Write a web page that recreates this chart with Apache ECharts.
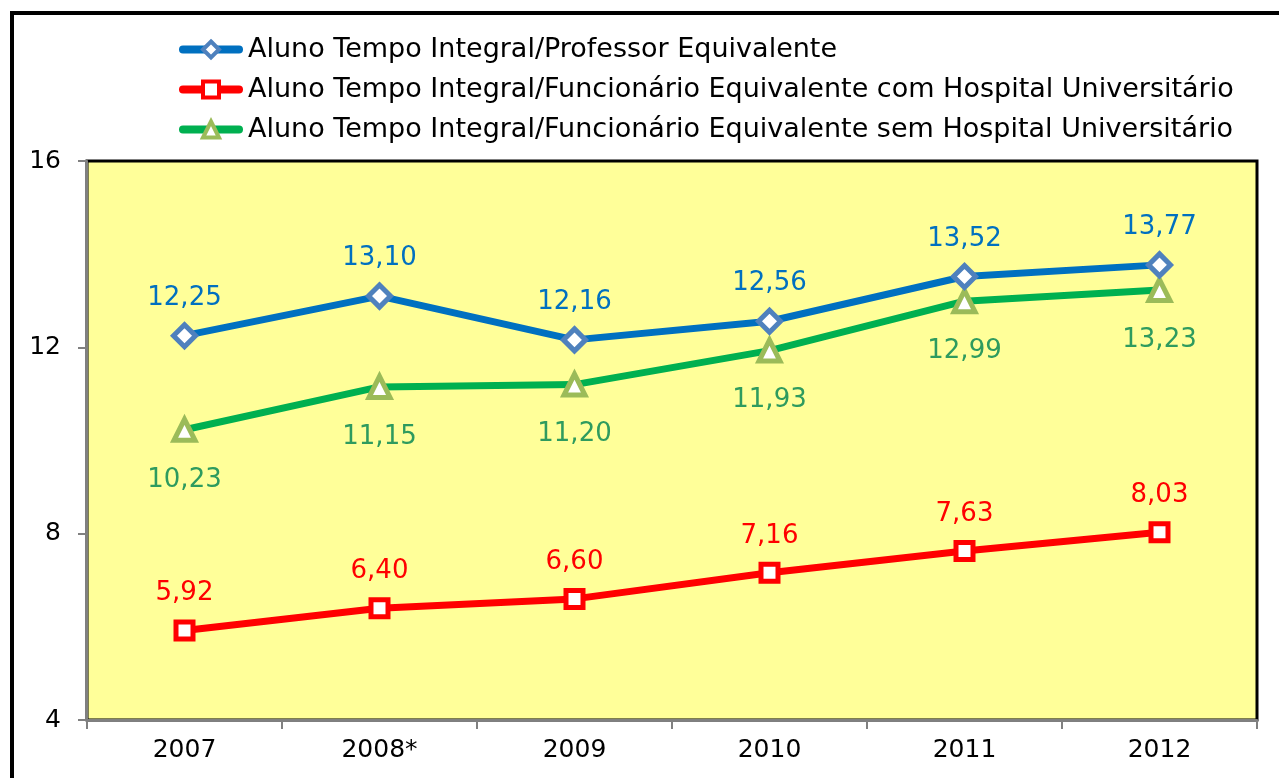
<!DOCTYPE html>
<html>
<head>
<meta charset="utf-8">
<script src="https://cdn.jsdelivr.net/npm/echarts@6/dist/echarts.min.js"></script>
<style>
  html, body { margin: 0; padding: 0; background: #fff; }
  #chart { width: 1279px; height: 778px; }
</style>
</head>
<body>
<div id="chart"></div>
<script>
const years = ["2007", "2008*", "2009", "2010", "2011", "2012"];
const alunoProfessor = [12.25, 13.10, 12.16, 12.56, 13.52, 13.77];
const alunoFuncComHU = [5.92, 6.40, 6.60, 7.16, 7.63, 8.03];
const alunoFuncSemHU = [10.23, 11.15, 11.20, 11.93, 12.99, 13.23];
const seriesNames = [
  "Aluno Tempo Integral/Professor Equivalente",
  "Aluno Tempo Integral/Funcionário Equivalente com Hospital Universitário",
  "Aluno Tempo Integral/Funcionário Equivalente sem Hospital Universitário"
];

const FONT = "DejaVu Sans";
const fmt = p => p.value.toFixed(2).replace(".", ",");

// line colour, marker border colour per series
const lineColors = ["#0070C0", "#FF0000", "#00B050"];
const markColors = ["#4F81BD", "#FF0000", "#9BBB59"];

const chart = echarts.init(document.getElementById("chart"));

chart.setOption({
  animation: false,
  textStyle: { fontFamily: FONT },
  graphic: [
    {
      type: "rect",
      shape: { x: 12, y: 13, width: 1400, height: 900 },
      style: { fill: "none", stroke: "#000", lineWidth: 4 },
      silent: true
    }
  ],
  legend: {
    orient: "vertical",
    left: 174,
    top: 31,
    itemWidth: 56,
    itemHeight: 20,
    itemGap: 13,
    textStyle: { fontSize: 27, color: "#000", fontFamily: FONT, padding: [0, 0, 0, 4] },
    data: seriesNames.map((name, i) => ({
      name,
      lineStyle: { width: 8, color: lineColors[i], cap: "round" },
      itemStyle: { color: "#fff", borderColor: markColors[i], borderWidth: 4 }
    }))
  },
  grid: {
    left: 87,
    right: 22,
    top: 161,
    bottom: 58,
    show: true,
    backgroundColor: "#FFFF99",
    borderColor: "#000",
    borderWidth: 3
  },
  xAxis: {
    type: "category",
    data: years,
    boundaryGap: true,
    axisLine: { lineStyle: { color: "#808080", width: 2 } },
    axisTick: { show: true, length: 9, lineStyle: { color: "#808080", width: 2 } },
    axisLabel: { fontSize: 25, color: "#000", margin: 18, fontFamily: FONT },
    splitLine: { show: false }
  },
  yAxis: {
    type: "value",
    min: 4,
    max: 16,
    interval: 4,
    axisLine: { show: true, lineStyle: { color: "#808080", width: 2 } },
    axisTick: { show: true, length: 9, lineStyle: { color: "#808080", width: 2 } },
    axisLabel: { fontSize: 25, color: "#000", margin: 26, fontFamily: FONT },
    splitLine: { show: false }
  },
  series: [
    {
      name: seriesNames[0],
      type: "line",
      data: alunoProfessor,
      symbol: "diamond",
      symbolSize: 22,
      lineStyle: { color: lineColors[0], width: 7 },
      itemStyle: { color: "#fff", borderColor: markColors[0], borderWidth: 5 },
      label: {
        show: true, position: "top", distance: 11, formatter: fmt,
        fontSize: 26, color: "#0070C0", fontFamily: FONT
      },
      z: 4
    },
    {
      name: seriesNames[1],
      type: "line",
      data: alunoFuncComHU,
      symbol: "rect",
      symbolSize: 17,
      lineStyle: { color: lineColors[1], width: 7 },
      itemStyle: { color: "#fff", borderColor: markColors[1], borderWidth: 5 },
      label: {
        show: true, position: "top", distance: 13, formatter: fmt,
        fontSize: 26, color: "#FF0000", fontFamily: FONT
      },
      z: 3
    },
    {
      name: seriesNames[2],
      type: "line",
      data: alunoFuncSemHU,
      symbol: "triangle",
      symbolSize: 21,
      lineStyle: { color: lineColors[2], width: 7 },
      itemStyle: { color: "#fff", borderColor: markColors[2], borderWidth: 5 },
      label: {
        show: true, position: "bottom", distance: 24, formatter: fmt,
        fontSize: 26, color: "#2E9B5E", fontFamily: FONT
      },
      z: 3
    }
  ]
});

window.addEventListener("resize", () => chart.resize());
</script>
</body>
</html>
